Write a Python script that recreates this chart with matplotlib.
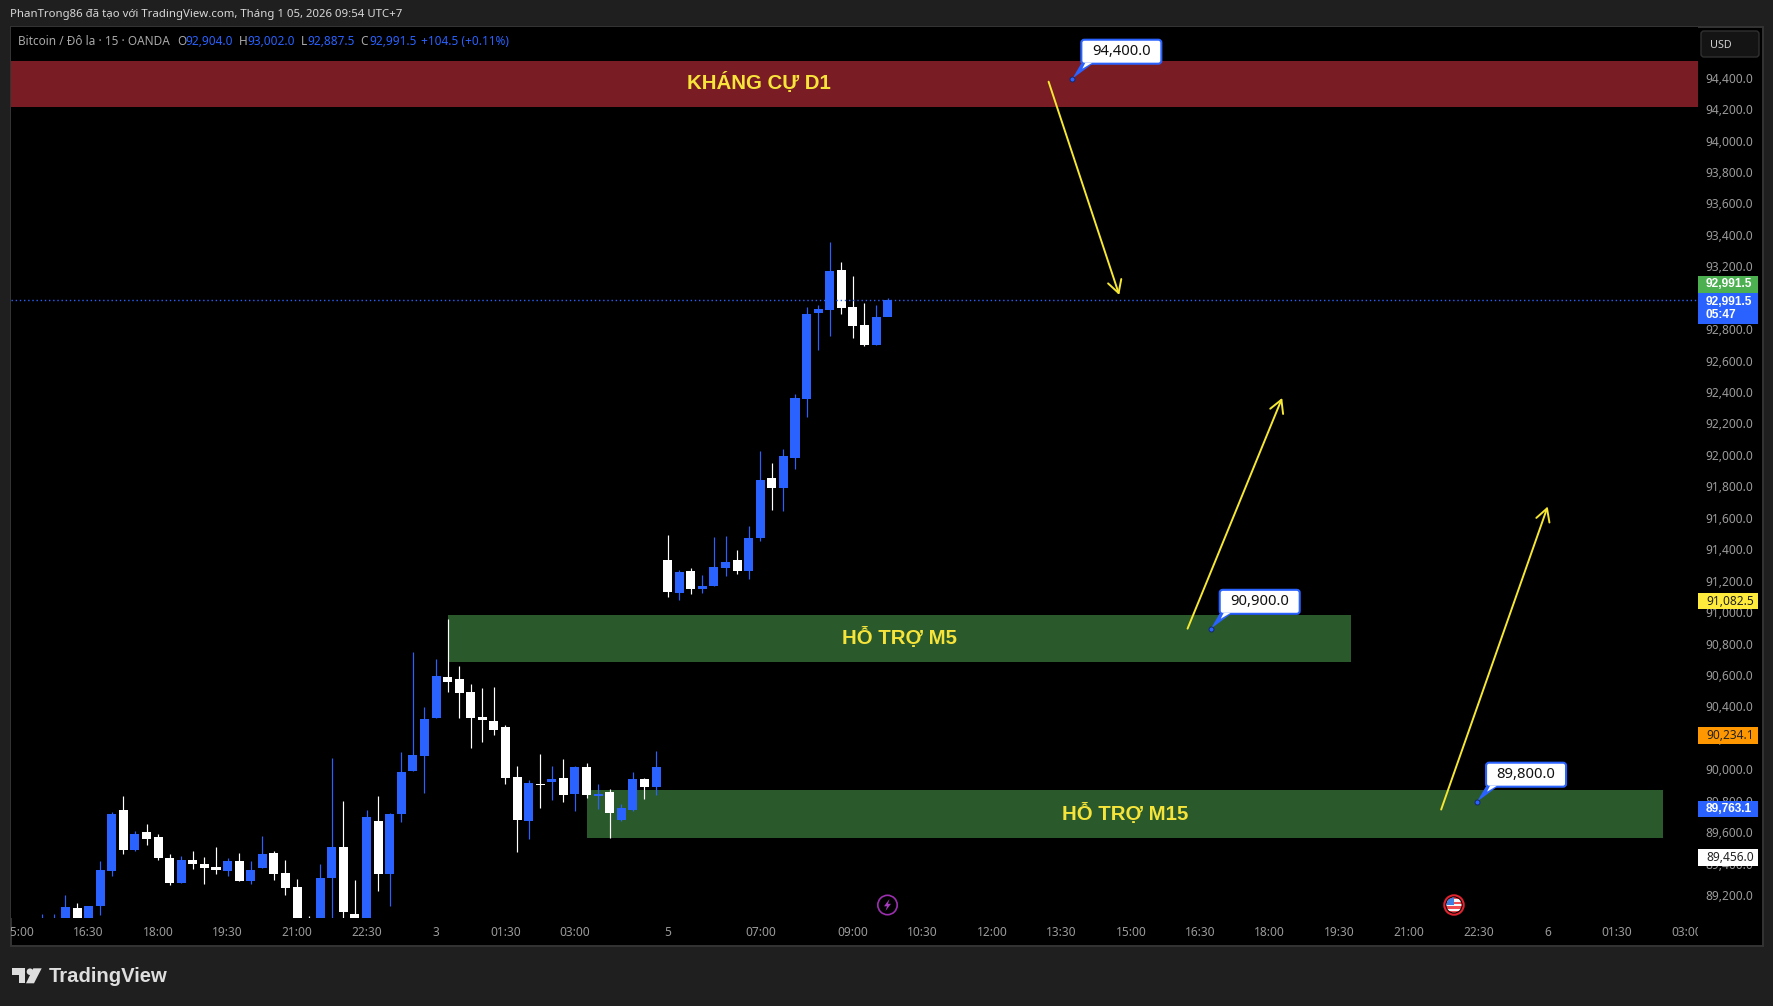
#!/usr/bin/env python3
"""TradingView style BTC 15m candlestick chart with support / resistance zones."""

import matplotlib
matplotlib.use("Agg")
import matplotlib.pyplot as plt
import matplotlib.patches as mpatches
import numpy as np
from matplotlib.transforms import Affine2D, Bbox

plt.rcParams["font.family"] = ["Noto Sans", "DejaVu Sans"]

# Candles, one per 15 minutes
opens = [
    88990, 89020, 89040, 89124, 89040, 89136, 89359, 89747, 89493, 89607,
    89575, 89442, 89283, 89429, 89404, 89384, 89359, 89423, 89295, 89378,
    89474, 89346, 89257, 89030, 89040, 89315, 89512, 89085, 89040, 89677,
    89340, 89722, 89995, 90091, 90333, 90593, 90581, 90498, 90339, 90313,
    90275, 89957, 89677, 89913, 89925, 89951, 89849, 90021, 89836, 89862,
    89684, 89747, 89944, 89893, 91338, 91128, 91268, 91153, 91172, 91287,
    91338, 91268, 91478, 91859, 91796, 91987, 92362, 92909, 92928, 93183,
    92947, 92833, 92706, 92887,
]
highs = [
    89085, 89085, 89206, 89155, 89136, 89423, 89734, 89836, 89613, 89658,
    89594, 89467, 89454, 89486, 89448, 89512, 89442, 89474, 89423, 89582,
    89486, 89429, 89308, 89073, 89404, 90078, 89804, 89302, 89747, 89836,
    89728, 90116, 90752, 90402, 90708, 90960, 90663, 90549, 90523, 90530,
    90288, 90027, 89938, 90103, 90027, 90072, 90027, 90046, 89913, 89881,
    89785, 89989, 89951, 90123, 91497, 91274, 91287, 91242, 91484, 91490,
    91401, 91554, 92031, 91955, 92044, 92394, 92947, 92960, 93361, 93234,
    93145, 92973, 92960, 93002,
]
lows = [
    88960, 88980, 89020, 89020, 89030, 89079, 89327, 89467, 89486, 89524,
    89429, 89270, 89283, 89372, 89276, 89340, 89327, 89295, 89276, 89378,
    89302, 89206, 89020, 88960, 89020, 89000, 89040, 89000, 89020, 89232,
    89136, 89671, 89995, 89855, 90333, 90498, 90333, 90142, 90180, 90224,
    89913, 89480, 89563, 89760, 89811, 89798, 89741, 89823, 89753, 89569,
    89677, 89741, 89817, 89843, 91102, 91083, 91121, 91128, 91172, 91236,
    91249, 91217, 91459, 91656, 91650, 91917, 92248, 92674, 92763, 92903,
    92750, 92699, 92706, 92887.5,
]
closes = [
    89030, 89050, 89130, 89050, 89136, 89365, 89722, 89493, 89594, 89563,
    89442, 89283, 89429, 89404, 89378, 89365, 89423, 89295, 89365, 89467,
    89340, 89251, 89040, 88980, 89315, 89512, 89098, 89030, 89703, 89340,
    89722, 89989, 90097, 90326, 90600, 90562, 90492, 90333, 90320, 90256,
    89951, 89684, 89919, 89906, 89944, 89843, 90021, 89843, 89849, 89728,
    89760, 89944, 89893, 90021, 91134, 91261, 91153, 91172, 91293, 91325,
    91268, 91478, 91847, 91796, 91999, 92368, 92903, 92935, 93177, 92941,
    92827, 92706, 92884, 92991.5,
]
last_price = 92991.5

# Axes labels
price_ticks = [89200 + 200 * k for k in range(27)]
time_ticks = [-2, 4, 10, 16, 22, 28, 34, 40, 46, 54, 62, 70, 76, 82, 88, 94,
              100, 106, 112, 118, 124, 130, 136, 142]
time_labels = ["15:00", "16:30", "18:00", "19:30", "21:00", "22:30", "3", "01:30",
               "03:00", "5", "07:00", "09:00", "10:30", "12:00", "13:30", "15:00",
               "16:30", "18:00", "19:30", "21:00", "22:30", "6", "01:30", "03:00"]

# Price tags on the right hand scale
tag_prices = [92991.5, 92991.5, 91082.5, 90234.1, 89763.1, 89456.0]
tag_texts = ["92,991.5", "92,991.5\n05:47", "91,082.5", "90,234.1", "89,763.1", "89,456.0"]
tag_colors = ["#4caf50", "#2962ff", "#ffeb3b", "#ff9800", "#2962ff", "#ffffff"]
tag_text_colors = ["#ffffff", "#ffffff", "#222222", "#222222", "#ffffff", "#222222"]
tag_shifts = [15.7, -8.6, -1, -2, -1.5, -1.5]  # pixels up

# Zones: label, first bar, last bar, top, bottom
zone_labels = ["KHÁNG CỰ D1", "HỖ TRỢ M5", "HỖ TRỢ M15"]
zone_label_bars = [61.9, 74.0, 93.5]
zone_starts = [-3, 35, 47]
zone_ends = [143, 113, 140]
zone_tops = [94513, 90988, 89874]
zone_bottoms = [94222, 90691, 89569]
zone_colors = ["#7a1c24", "#2a5a2b", "#2a5a2b"]

# Trend arrows
arrow_bars_from = [86.9, 98.9, 120.8]
arrow_prices_from = [94381, 90901, 89750]
arrow_bars_to = [93.0, 107.07, 130.0]
arrow_prices_to = [93024, 92369, 91678]

# Price callouts
note_bars = [88.95, 100.9, 123.9]
note_prices = [94400.0, 90900.0, 89800.0]

BG = "#1f1f1f"
BLUE = "#2962ff"
YELLOW = "#f7e43a"
GREY = "#9b9b9b"
BOLD_FONT = "Liberation Sans"
W, H = 1773, 1006
PX = 6.3626  # price units per pixel

fig = plt.figure(figsize=(W / 100, H / 100), dpi=100, facecolor=BG)

# black pane behind everything
fig.add_artist(mpatches.Rectangle((10.5 / W, 1 - 945.5 / H), 1752 / W, 919 / H,
                                  transform=fig.transFigure, facecolor="black",
                                  edgecolor="#343434", linewidth=1.4, zorder=-1))

ax = fig.add_axes([11 / W, 1 - 918 / H, 1687 / W, 891 / H])
ax.set_facecolor("black")
ax.set_xlim(-2.703, 142.98)
ax.set_ylim(89060, 94729)
for spine in ax.spines.values():
    spine.set_visible(False)

# zones
for start, end, top_p, bottom_p, color in zip(zone_starts, zone_ends, zone_tops, zone_bottoms, zone_colors):
    ax.add_patch(mpatches.Rectangle((start, bottom_p), end - start, top_p - bottom_p,
                                    facecolor=color, edgecolor="none", zorder=1))
for label, lx, top_p, bottom_p in zip(zone_labels, zone_label_bars, zone_tops, zone_bottoms):
    ax.text(lx, (top_p + bottom_p) / 2 + 1 * PX, label, color=YELLOW, fontsize=14.7, family=BOLD_FONT,
            fontweight="bold", ha="center", va="center", zorder=4)

# candles
o, h, l, c = map(np.array, (opens, highs, lows, closes))
x = np.arange(len(o))
up = c >= o
candle_colors = np.where(up, BLUE, "#ffffff")
ax.vlines(x, l, h, colors=candle_colors, linewidth=0.85, zorder=2)
ax.bar(x, np.abs(c - o), bottom=np.minimum(o, c), width=0.78, color=candle_colors,
       linewidth=0, zorder=3)

# last price line
ax.axhline(last_price, color=BLUE, linewidth=1.0, linestyle=(0, (1, 2)), zorder=4)

# arrows
for x0, y0, x1, y1 in zip(arrow_bars_from, arrow_prices_from, arrow_bars_to, arrow_prices_to):
    ax.annotate("", xy=(x1, y1), xytext=(x0, y0), zorder=5,
                arrowprops=dict(arrowstyle="->,head_length=0.9,head_width=0.5", color="#f5e733",
                                lw=1.4, shrinkA=0, shrinkB=0))

# price scale on the right
ax.yaxis.tick_right()
ax.set_yticks(price_ticks)
ax.set_yticklabels([f"{p:,.1f}" for p in price_ticks], fontsize=8.6, color=GREY, va="center_baseline")
ax.tick_params(axis="y", length=0, pad=5.6)
for t in ax.get_yticklabels():
    t.set_transform(t.get_transform() + Affine2D().translate(0, 1))

# time scale, labels get cut at the pane edges like the original
ax.set_xticks(time_ticks)
ax.set_xticklabels(time_labels, fontsize=8.6, color=GREY)
ax.tick_params(axis="x", length=0, pad=5.6)
clip = Bbox([[11, 0], [1698, H]])
for t in ax.get_xticklabels():
    t.set_clip_on(True)
    t.set_clip_box(clip)

# tags drawn over the scale labels
tag_tf = ax.get_yaxis_transform()
for price, text, color, tcolor, shift in zip(tag_prices, tag_texts, tag_colors, tag_text_colors, tag_shifts):
    two = "\n" in text
    height = (30.7 if two else 16.7) * PX
    center = price + shift * PX
    ax.add_patch(mpatches.Rectangle((1.0, center - height / 2), 59.7 / 1687, height, transform=tag_tf,
                                    facecolor=color, edgecolor="none", zorder=9, clip_on=False))
    is_bold = tcolor == "#ffffff"
    ax.text(1 + 8 / 1687, center, text, transform=tag_tf, color=tcolor, fontsize=8.6, ha="left",
            va="center", linespacing=1.05, zorder=10, clip_on=False,
            family=BOLD_FONT if is_bold else "Noto Sans", fontweight="bold" if is_bold else "normal")

# page level bits in pixel coordinates
top = fig.add_axes([0, 0, 1, 1], facecolor="none", zorder=10)
top.set_xlim(0, W)
top.set_ylim(H, 0)
top.axis("off")

# callouts, placed from the chart's own scales
fig.canvas.draw()
for nx, ny in zip(note_bars, note_prices):
    px, py = ax.transData.transform((nx, ny))
    py = H - py
    top.add_patch(mpatches.Polygon([(px + 9, py - 15.5), (px + 21, py - 15.5), (px, py)],
                                   facecolor=BLUE, edgecolor="none", zorder=3))
    top.add_patch(mpatches.Polygon([(px + 13, py - 16), (px + 20, py - 16), (px + 10, py - 10)],
                                   facecolor="white", edgecolor="none", zorder=5))
    top.add_patch(mpatches.FancyBboxPatch((px + 9, py - 39), 80, 24, boxstyle="round,pad=0,rounding_size=3",
                                          facecolor="white", edgecolor=BLUE, linewidth=1.5, zorder=4))
    top.text(px + 49, py - 27, f"{ny:,.1f}", fontsize=10.6, color="#111111", ha="center", va="center", zorder=6)
    top.plot([px], [py], marker="o", markersize=3.6, markerfacecolor=BLUE, markeredgecolor="#14286e",
             markeredgewidth=0.7, zorder=7)

top.text(10, 14.3, "PhanTrong86 đã tạo với TradingView.com, Tháng 1 05, 2026 09:54 UTC+7",
         color="#d8d8d8", fontsize=8.2, va="center")

# legend row
legend_size = 8.5
top.text(18, 41.7, "Bitcoin / Đô la · 15 · OANDA", color="#a8a8a8", fontsize=legend_size, va="center")
for lx, letter, vx, value in [(176.8, "O", 185.5, "92,904.0"), (238.6, "H", 247.5, "93,002.0"),
                              (301, "L", 307, "92,887.5"), (360.7, "C", 369, "92,991.5")]:
    top.text(lx, 41.7, letter, color="#a8a8a8", fontsize=legend_size, va="center")
    top.text(vx, 41.7, value, color=BLUE, fontsize=legend_size, va="center")
top.text(421.4, 41.7, "+104.5 (+0.11%)", color=BLUE, fontsize=legend_size, va="center")

# currency button
top.add_patch(mpatches.FancyBboxPatch((1701, 31), 58, 26, boxstyle="round,pad=0,rounding_size=3",
                                      facecolor="#141414", edgecolor="#303030", linewidth=1))
top.text(1710, 45, "USD", color="#cfcfcf", fontsize=7.8, va="center")

# logo
logo = "#dedede"
top.add_patch(mpatches.Polygon([(12, 968.3), (25.3, 968.3), (25.3, 983.3), (19.3, 983.3), (19.3, 975), (12, 975)],
                               facecolor=logo, edgecolor="none"))
top.add_patch(mpatches.Circle((30, 971.7), 3.3, facecolor=logo, edgecolor="none"))
top.add_patch(mpatches.Polygon([(33.3, 968.3), (41.7, 968.3), (34, 983.3), (26, 983.3)],
                               facecolor=logo, edgecolor="none"))
top.text(49, 977, "TradingView", color=logo, fontsize=14.6, family=BOLD_FONT, fontweight="bold", va="center")

# lightning event marker
top.add_patch(mpatches.Circle((887.5, 905), 9.7, facecolor="none", edgecolor="#9c2fb0", linewidth=1.2))
top.add_patch(mpatches.Polygon([(889.5, 899), (884, 906.3), (887, 906.3), (885.5, 911),
                                (891, 903.8), (888, 903.8)], facecolor="#a83cc0", edgecolor="none"))

# US flag event marker
flag = mpatches.Circle((1454, 905), 7.6, transform=top.transData)
for k in range(7):
    stripe = mpatches.Rectangle((1445, 897 + k * 2.3), 18, 2.3,
                                facecolor="#f04b50" if k % 2 == 0 else "#f7f7f7", edgecolor="none")
    top.add_patch(stripe)
    stripe.set_clip_path(flag)
canton = mpatches.Rectangle((1445, 897), 9, 8, facecolor="#3d7ee0", edgecolor="none")
top.add_patch(canton)
canton.set_clip_path(flag)
top.add_patch(mpatches.Circle((1454, 905), 9.7, facecolor="none", edgecolor="#e0242f", linewidth=1.5))

fig.savefig("out.png", dpi=100, facecolor=BG)
